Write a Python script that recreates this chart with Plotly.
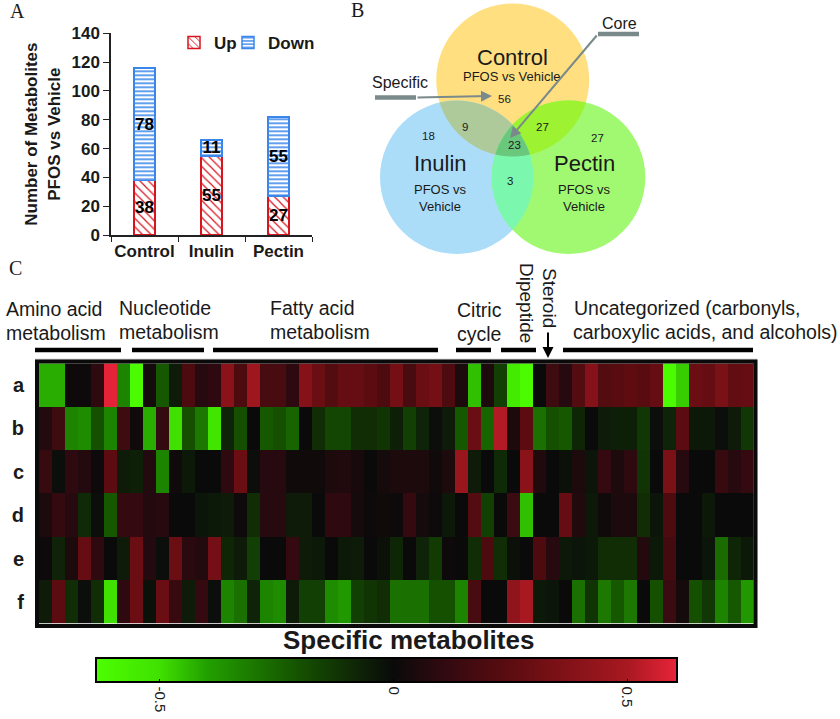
import math
import plotly.graph_objects as go

W, H = 840, 719

# ---------- data ----------
groups = ["Control", "Inulin", "Pectin"]
up_counts = [38, 55, 27]
down_counts = [78, 11, 55]

row_labels = ["a", "b", "c", "d", "e", "f"]
row_a = [-.42,-.42,.01,.01,.1,.6,-.33,-.62,.03,-.22,-.05,.2,.08,.1,.4,.2,.47,.18,
         .18,.1,.38,.3,.22,.28,.28,.25,.2,.33,.18,.3,.33,.2,.05,-.45,.05,-.15,
         -.55,-.62,0,.15,.08,.22,.38,.22,.24,.26,.24,.28,-.62,-.47,.3,.28,.35,.27,.28]
row_b = [.07,.15,-.33,-.35,-.2,-.33,.15,.02,-.42,.12,-.5,-.2,-.3,-.52,-.07,-.2,0,-.22,
         -.2,-.25,0,-.1,-.17,-.17,-.1,-.1,-.12,-.06,-.15,-.07,-.01,-.05,-.22,.3,-.25,.52,
         .05,.25,-.28,-.2,-.22,-.08,0,-.05,-.06,-.06,-.13,-.01,-.07,.25,-.04,-.04,-.01,-.05,-.13]
row_c = [.13,-.01,.1,.07,.01,.25,-.05,-.06,.07,-.33,.02,-.04,0,0,.1,.3,-.01,.08,
         .08,.02,.02,.02,.05,.06,.04,0,.03,.05,.05,.05,.02,.05,.45,-.05,0,-.09,
         0,.4,.06,0,-.02,.05,-.03,.12,.05,.1,-.12,0,.35,.08,0,0,.13,.08,.12]
row_d = [.05,.12,.08,-.09,-.01,-.22,.12,.12,.07,.08,0,0,-.03,-.04,-.05,.01,-.1,.08,
         .08,-.05,-.05,0,.1,.1,.03,.01,.02,.01,.12,.03,.01,-.04,0,.22,-.15,0,
         .14,-.45,0,0,.28,.06,-.04,.02,.05,.05,-.1,-.03,.2,0,0,-.04,0,0,0]
row_e = [.01,-.07,.05,.28,.1,0,-.05,.3,.07,-.01,.3,.09,.07,.33,-.08,-.05,-.15,0,
         0,.12,-.05,-.04,0,-.04,-.05,0,-.02,-.08,0,-.07,-.14,.01,0,-.1,.2,-.1,
         -.02,0,.2,.08,-.04,-.03,-.04,-.1,-.1,-.1,.07,-.04,.17,0,0,-.03,-.27,-.08,-.04]
row_f = [-.05,.25,-.1,-.01,-.1,-.5,.1,.3,-.02,.3,.13,-.05,.12,-.01,-.33,-.28,-.07,-.33,
         -.35,-.05,-.15,-.15,-.35,-.38,-.15,-.12,-.1,-.28,-.28,-.28,-.2,-.2,-.33,.18,0,0,
         .42,.5,-.04,-.03,0,-.28,-.12,-.3,-.22,-.3,0,-.2,.14,.03,-.2,-.13,-.33,-.22,-.38]
columns = list(range(1, 56))

cbar_ticks = [-0.5, 0, 0.5]
cbar_tick_text = ["-0.5", "0", "0.5"]

venn_counts = [("56", 504, 99), ("9", 465, 127), ("18", 429, 136), ("27", 542, 127),
               ("27", 597, 138), ("23", 514, 145), ("3", 510, 181)]

# ---------- helpers ----------
def px(x):
    return x / W

def py(y):
    return 1 - y / H

SANS = "Liberation Sans, Arial, sans-serif"
SERIF = "Liberation Serif, Times New Roman, serif"
INK = "#1a1a1a"

annotations = []
shapes = []

def label(text, x, y, size, family=SANS, bold=False, angle=0, anchor="center", color=INK, align="left"):
    annotations.append(dict(
        text=f"<b>{text}</b>" if bold else text, x=px(x), y=py(y), xref="paper", yref="paper",
        showarrow=False, font=dict(family=family, size=size, color=color),
        xanchor=anchor, yanchor="middle", textangle=angle, align=align))

def hline(x0, x1, y, width, color):
    shapes.append(dict(type="line", xref="paper", yref="paper", x0=px(x0), x1=px(x1),
                       y0=py(y), y1=py(y), line=dict(color=color, width=width)))

def vline(x, y0, y1, width, color):
    shapes.append(dict(type="line", xref="paper", yref="paper", x0=px(x), x1=px(x),
                       y0=py(y0), y1=py(y1), line=dict(color=color, width=width)))

def arrow(x0, y0, x1, y1, color, width):
    annotations.append(dict(
        text="", x=px(x1), y=py(y1), xref="paper", yref="paper", ax=x0 - x1, ay=y0 - y1,
        axref="pixel", ayref="pixel", showarrow=True, arrowhead=2, arrowsize=1.1,
        arrowwidth=width, arrowcolor=color))

# ---------- venn geometry ----------
C = (512.7, 80.0, 76.5)
I = (456.7, 177.3, 76.7)
P = (568.5, 177.3, 76.8)

def circle_hits(a, b):
    d = math.hypot(b[0] - a[0], b[1] - a[1])
    t = (d * d + a[2] ** 2 - b[2] ** 2) / (2 * d)
    h = math.sqrt(a[2] ** 2 - t * t)
    ux, uy = (b[0] - a[0]) / d, (b[1] - a[1]) / d
    mx, my = a[0] + ux * t, a[1] + uy * t
    return [(mx - uy * h, my + ux * h), (mx + uy * h, my - ux * h)]

def arc_pts(c, p, q, n=40):
    a0 = math.atan2(p[1] - c[1], p[0] - c[0])
    a1 = math.atan2(q[1] - c[1], q[0] - c[0])
    d = (a1 - a0 + math.pi) % (2 * math.pi) - math.pi
    return [(c[0] + c[2] * math.cos(a0 + d * i / n), c[1] + c[2] * math.sin(a0 + d * i / n))
            for i in range(n + 1)]

def region(pts, color):
    path = "M" + " L".join(f"{px(x):.5f},{py(y):.5f}" for x, y in pts) + " Z"
    shapes.append(dict(type="path", xref="paper", yref="paper", path=path,
                       fillcolor=color, line=dict(width=0), layer="below"))

for circ, col in ((C, "#FFDF7F"), (I, "#ABDDF9"), (P, "#A1F972")):
    shapes.append(dict(type="circle", xref="paper", yref="paper", layer="below",
                       x0=px(circ[0] - circ[2]), x1=px(circ[0] + circ[2]),
                       y0=py(circ[1] - circ[2]), y1=py(circ[1] + circ[2]),
                       fillcolor=col, line=dict(width=0)))

ci = circle_hits(C, I)
cp = circle_hits(C, P)
ip = circle_hits(I, P)
region(arc_pts(C, ci[0], ci[1]) + arc_pts(I, ci[1], ci[0]), "#AECA9B")
region(arc_pts(C, cp[0], cp[1]) + arc_pts(P, cp[1], cp[0]), "#9DF232")
region(arc_pts(I, ip[0], ip[1]) + arc_pts(P, ip[1], ip[0]), "#7CF8AE")

def inside(pt, c):
    return math.hypot(pt[0] - c[0], pt[1] - c[1]) < c[2]

ci_in = [p for p in ci if inside(p, P)][0]
cp_in = [p for p in cp if inside(p, I)][0]
ip_in = [p for p in ip if inside(p, C)][0]
region(arc_pts(C, ci_in, cp_in) + arc_pts(P, cp_in, ip_in) + arc_pts(I, ip_in, ci_in), "#6AC87C")

# venn text
label("Control", 512, 57, 22)
label("PFOS vs Vehicle", 512, 77, 13)
label("Inulin", 440, 164, 22)
label("PFOS vs<br>Vehicle", 440, 197.5, 13, align="center")
label("Pectin", 584, 164, 22)
label("PFOS vs<br>Vehicle", 584, 197.5, 13, align="center")
for txt, x, y in venn_counts:
    label(txt, x, y, 11.5)
label("Specific", 400, 82, 16)
label("Core", 619, 23, 16)
GREY = "#7a898a"
hline(375, 416, 97.5, 4.5, GREY)
hline(598, 639, 34, 4.5, GREY)
arrow(416, 97.5, 492, 96, GREY, 2)
arrow(598, 34, 510, 138, GREY, 2)

# panel letters
label("A", 17, 11, 20, family=SERIF)
label("B", 357, 10, 20, family=SERIF)
label("C", 15, 268, 20, family=SERIF)

# heat-map header
label("Amino acid", 4, 309, 19.5, anchor="left")
label("metabolism", 4, 333, 19.5, anchor="left")
label("Nucleotide", 117, 308, 19.5, anchor="left")
label("metabolism", 117, 332, 19.5, anchor="left")
label("Fatty acid", 268, 308, 19.5, anchor="left")
label("metabolism", 268, 332, 19.5, anchor="left")
label("Citric", 455, 310, 19.5, anchor="left")
label("cycle", 455, 334, 19.5, anchor="left")
label("Dipeptide", 526, 303, 19, angle=90)
label("Steroid", 550, 298, 19, angle=90)
label("Uncategorized (carbonyls,", 572, 308, 19.5, anchor="left")
label("carboxylic acids, and alcohols)", 571, 332, 19.5, anchor="left")
for x0, x1 in ((35, 121), (132, 204), (213, 438), (456, 491), (501, 536), (563, 753)):
    hline(x0, x1, 350, 4.5, "#000000")
arrow(548, 331, 548, 358, "#000000", 2)

label("Specific metabolites", 408, 640, 26, bold=True)

# heat-map frame
hline(35, 757, 359.2, 1, "#c4c4c4")
vline(756.7, 359, 627, 1, "#c4c4c4")
shapes.append(dict(type="rect", xref="paper", yref="paper", x0=px(37), x1=px(755.5),
                   y0=py(361.5), y1=py(626), line=dict(color="#0a0a0a", width=4)))

# ---------- traces ----------
fig = go.Figure()
fig.add_trace(go.Bar(
    x=groups, y=up_counts, name="Up", width=0.32, text=up_counts, textposition="inside",
    insidetextanchor="middle", textangle=0, constraintext="none", legend="legend",
    textfont=dict(family=SANS, size=17, color="#000000", weight="bold"),
    marker=dict(color="white", line=dict(color="#d9141e", width=1.5),
                pattern=dict(shape="\\", fgcolor="#d9141e", bgcolor="white", fgopacity=1,
                             size=6, solidity=0.2)),
    xaxis="x", yaxis="y"))
fig.add_trace(go.Bar(
    x=groups, y=down_counts, name="Down", width=0.32, text=down_counts, textposition="inside",
    insidetextanchor="middle", textangle=0, constraintext="none", legend="legend2",
    textfont=dict(family=SANS, size=17, color="#000000", weight="bold"),
    marker=dict(color="white", line=dict(color="#3b86ea", width=1.5),
                pattern=dict(shape="-", fgcolor="#3b86ea", bgcolor="white", fgopacity=1,
                             size=4, solidity=0.4)),
    xaxis="x", yaxis="y"))

vmin, vmax = -0.637, 0.607
def stop(v):
    return (v - vmin) / (vmax - vmin)
colorscale = [[0, "#4cff00"], [stop(-0.5), "#40e000"], [stop(-0.4), "#22a000"], [stop(-0.2), "#155000"],
              [stop(0), "#0a0a0a"], [stop(0.1), "#2e0a10"], [stop(0.25), "#5c0c10"],
              [stop(0.5), "#a81820"], [1, "#e8243a"]]

fig.add_trace(go.Heatmap(
    z=[row_a, row_b, row_c, row_d, row_e, row_f], x=columns, y=row_labels,
    zmin=vmin, zmax=vmax, colorscale=colorscale, xaxis="x2", yaxis="y2",
    colorbar=dict(
        orientation="h", lenmode="pixels", len=581, thicknessmode="pixels", thickness=24,
        x=px(386.5), xanchor="center", y=py(658), yanchor="top", xpad=0, ypad=0,
        outlinecolor="black", outlinewidth=2, tickmode="array",
        tickvals=cbar_ticks, ticktext=cbar_tick_text, ticks="inside", ticklen=4, tickwidth=1,
        tickcolor="black", tickangle=90, tickfont=dict(family=SANS, size=15, color=INK))))

# matching tick marks along the colour bar's upper edge
for v in cbar_ticks:
    vline(96 + stop(v) * 581, 658, 662, 1, "black")

axis_font = dict(family=SANS, size=17, color=INK, weight="bold")
legend_common = dict(orientation="h", y=py(43), xanchor="left", yanchor="middle",
                     bgcolor="rgba(0,0,0,0)", font=axis_font)
fig.update_layout(
    width=W, height=H, margin=dict(l=0, r=0, t=0, b=0, autoexpand=False),
    paper_bgcolor="white", plot_bgcolor="white",
    barmode="stack", bargap=0.68,
    showlegend=True,
    legend=dict(x=px(174), **legend_common),
    legend2=dict(x=px(228), **legend_common),
    xaxis=dict(domain=[px(111), px(312)], anchor="y", tickfont=axis_font, showgrid=False,
               showline=True, linecolor="#222", linewidth=1.5, ticks="outside", ticklen=5,
               tickcolor="#222", tickson="boundaries", zeroline=False, tickangle=0),
    yaxis=dict(domain=[py(235), py(33.3)], anchor="x", range=[0, 140], dtick=20, tickfont=axis_font,
               showgrid=False, showline=True, linecolor="#222", linewidth=1.5, ticks="outside",
               ticklen=6, tickcolor="#222", zeroline=False,
               title=dict(text="Number of Metabolites<br>PFOS vs Vehicle", font=axis_font, standoff=7)),
    xaxis2=dict(domain=[px(39), px(753.7)], anchor="y2", visible=False),
    yaxis2=dict(domain=[py(623.7), py(363.3)], anchor="x2", autorange="reversed", showgrid=False,
                zeroline=False, showline=False, ticks="outside", ticklen=10, tickcolor="rgba(0,0,0,0)",
                tickfont=dict(family=SANS, size=20, color=INK, weight="bold")),
    shapes=shapes, annotations=annotations)

fig.write_html("out.html", post_script="document.body.style.margin='0';", config={"displayModeBar": False})
